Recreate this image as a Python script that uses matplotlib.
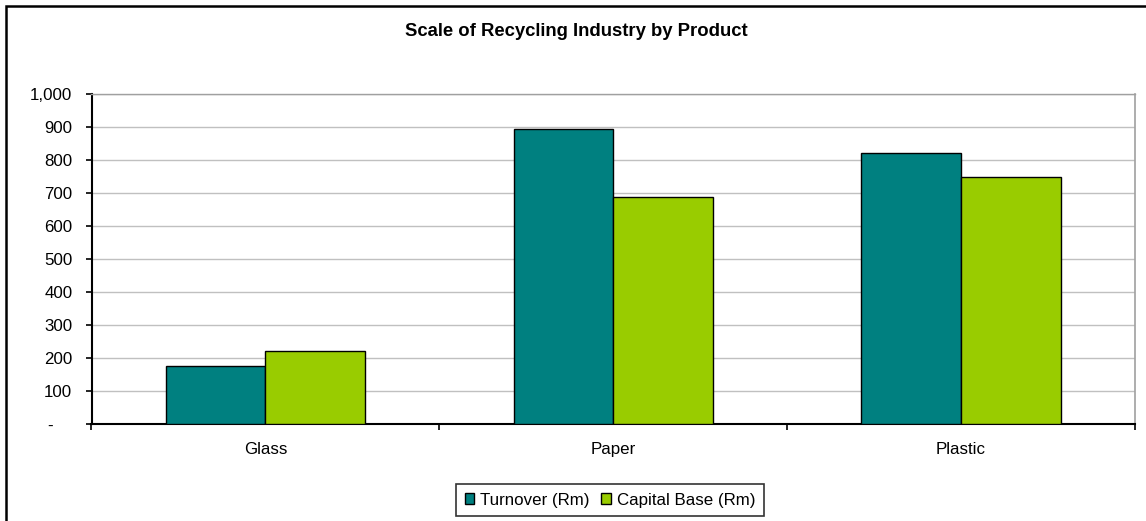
import matplotlib
matplotlib.use("Agg")
import matplotlib.pyplot as plt
from matplotlib.patches import Rectangle
from matplotlib.ticker import FuncFormatter
import numpy as np

plt.rcParams['font.family'] = ['Liberation Sans', 'DejaVu Sans']

categories = ["Glass", "Paper", "Plastic"]
turnover = [175, 893, 822]
capital_base = [221, 688, 747]
series_names = ["Turnover (Rm)", "Capital Base (Rm)"]
colors = ["#008080", "#99CC00"]
title = "Scale of Recycling Industry by Product"

FS = 12.2

W, H = 1146, 521
fig = plt.figure(figsize=(W / 100, H / 100), dpi=100)
ax = fig.add_axes([91.5 / W, 1 - 424 / H, (1135 - 91.5) / W, (424 - 94) / H])

x = np.arange(len(categories))
bw = 0.2865
b1 = ax.bar(x - bw / 2, turnover, bw, color=colors[0], edgecolor="black", linewidth=1.0, label=series_names[0], zorder=3)
b2 = ax.bar(x + bw / 2, capital_base, bw, color=colors[1], edgecolor="black", linewidth=1.0, label=series_names[1], zorder=3)

ax.set_xlim(-0.5, len(categories) - 0.5)
ax.set_ylim(0, 1000)
ax.set_yticks(np.arange(0, 1001, 100))
ax.yaxis.set_major_formatter(FuncFormatter(lambda v, p: "-    " if v == 0 else f"{int(v):,}"))
ax.yaxis.grid(True, color="#c0c0c0", linewidth=1.0, zorder=0)
ax.set_axisbelow(True)

ax.set_xticks(x)
ax.set_xticklabels(categories)
ax.set_xticks(np.arange(-0.5, len(categories)), minor=True)
ax.tick_params(axis="x", which="major", length=0, pad=13, labelsize=FS)
ax.tick_params(axis="x", which="minor", length=4.3, width=1.2, direction="out", color="black")
ax.tick_params(axis="y", length=4.3, width=1.2, direction="out", pad=9.5, labelsize=FS)

for s in ["left", "bottom"]:
    ax.spines[s].set_color("black")
    ax.spines[s].set_linewidth(1.5)
ax.spines["right"].set_color("#a0a0a0")
ax.spines["right"].set_linewidth(1.2)
ax.spines["top"].set_color("#a0a0a0")
ax.spines["top"].set_linewidth(1.0)

fig.text(576 / W, 1 - 31 / H, title, ha="center", va="center", fontsize=13.3, fontweight="bold")

leg = fig.legend(handles=[b1, b2], labels=series_names, loc="center",
                 bbox_to_anchor=(610 / W, 1 - 500 / H), ncol=2, frameon=True,
                 fancybox=False, edgecolor="black", fontsize=FS,
                 handlelength=0.55, handleheight=0.55, handletextpad=0.35,
                 columnspacing=0.7, borderpad=0.5, borderaxespad=0)
leg.get_frame().set_linewidth(1.2)

fig.patches.append(Rectangle((6 / W, -0.05), 1.1, 1 - 6 / H + 0.05, transform=fig.transFigure,
                             fill=False, edgecolor="black", linewidth=1.8, zorder=10))

fig.savefig("out.png", dpi=100)
